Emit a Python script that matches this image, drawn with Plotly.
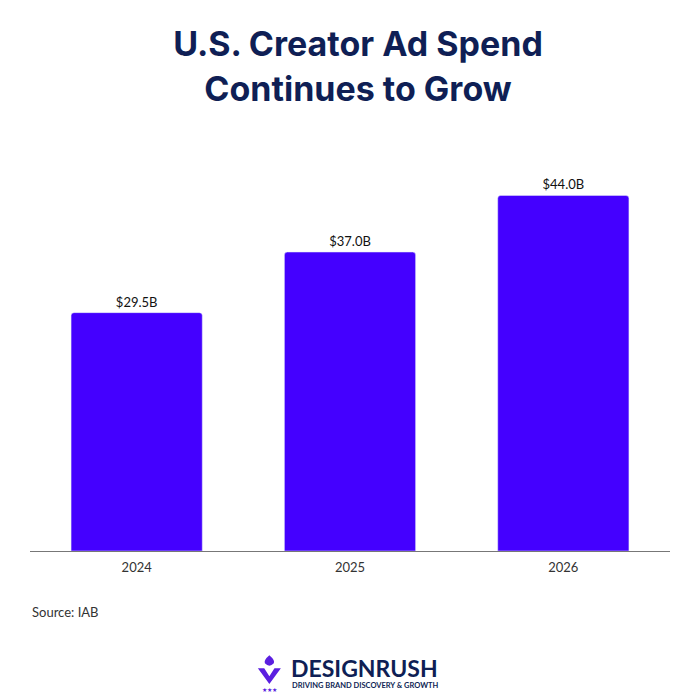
import plotly.graph_objects as go

years = ["2024", "2025", "2026"]
spend = [29.5, 37.0, 44.0]
labels = ["$29.5B", "$37.0B", "$44.0B"]

bar_color = "#4400FF"
navy = "#0F1F55"
logo_purple = "#5B1FE0"

fig = go.Figure(go.Bar(
    x=years, y=spend,
    marker=dict(color=bar_color, cornerradius=3),
    text=labels, textposition="outside",
    textfont=dict(family="Lato", size=13, color="#111111"),
    cliponaxis=False,
    width=0.615,
))

fig.update_layout(
    width=700, height=700,
    margin=dict(l=22, r=38, t=139, b=157),
    plot_bgcolor="white", paper_bgcolor="white",
    showlegend=False,
    font=dict(family="Lato"),
    title=dict(
        text="<b>U.S. Creator Ad Spend<br>Continues to Grow</b>",
        x=0.5, xanchor="center", y=0.931, yanchor="middle",
        font=dict(family="Inter", size=34, color=navy),
    ),
)
fig.update_xaxes(
    showline=True, linecolor="#777777", linewidth=1,
    ticks="", tickfont=dict(size=13, color="#333333"),
    ticklabelstandoff=4,
    showgrid=False,
)
fig.update_yaxes(range=[0, 50], visible=False, showgrid=False)

# source note
fig.add_annotation(
    text="Source: IAB", xref="paper", yref="paper",
    x=0.0, y=-0.152, xanchor="left", yanchor="middle", showarrow=False,
    font=dict(size=13, color="#333333"),
)

# logo
fig.add_annotation(
    text="<b>DESIGNRUSH</b>", xref="paper", yref="paper",
    x=0.404, y=-0.290, xanchor="left", yanchor="middle", showarrow=False,
    font=dict(family="Lato", size=23, color=navy),
)
fig.add_annotation(
    text="<b>DRIVING BRAND DISCOVERY &amp; GROWTH</b>", xref="paper", yref="paper",
    x=0.406, y=-0.334, xanchor="left", yanchor="middle", showarrow=False,
    font=dict(family="Lato", size=7.5, color=navy),
)
fig.add_shape(
    type="path", xref="paper", yref="paper",
    path="M 0.356 -0.290 L 0.366 -0.290 L 0.374 -0.310 L 0.382 -0.290 L 0.392 -0.290 L 0.374 -0.329 Z",
    fillcolor=logo_purple, line=dict(width=0),
)
fig.add_shape(
    type="path", xref="paper", yref="paper",
    path="M 0.374 -0.258 Q 0.365 -0.270 0.367 -0.278 Q 0.374 -0.290 0.381 -0.278 Q 0.383 -0.270 0.374 -0.258 Z",
    fillcolor=logo_purple, line=dict(width=0),
)
fig.add_annotation(
    text="★★★", xref="paper", yref="paper",
    x=0.374, y=-0.344, xanchor="center", yanchor="middle", showarrow=False,
    font=dict(size=6, color=logo_purple),
)

fig.write_html("out.html")
